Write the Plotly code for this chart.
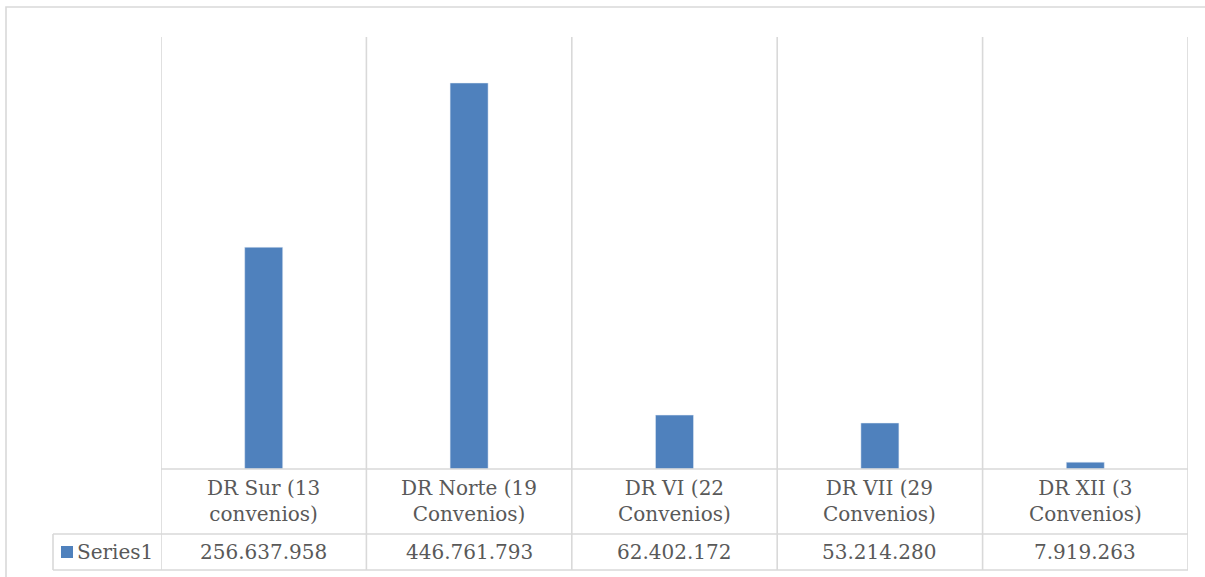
import plotly.graph_objects as go

categories = ["DR Sur (13 convenios)", "DR Norte (19 Convenios)", "DR VI (22 Convenios)",
              "DR VII (29 Convenios)", "DR XII (3 Convenios)"]
values = [256637958, 446761793, 62402172, 53214280, 7919263]
series_name = "Series1"
y_max = 500000000

BAR = "#4f81bd"
GRID = "#d9d9d9"
TXT = "#595959"
FONT = "DejaVu Serif"
FS = 20

W, H = 1205, 577
L, R, T, B = 161, 17, 37, 108
pw, ph = W - L - R, H - T - B

def px_x(px):
    return (px - L) / pw

def px_y(py):
    return (H - B - py) / ph

n = len(categories)
x_idx = list(range(n))

fig = go.Figure(go.Bar(x=x_idx, y=values, marker_color=BAR, width=0.185, name=series_name,
                       showlegend=False))

row1_bot = px_y(534)
row2_bot = px_y(570)
tbl_left = px_x(53)

shapes = []
line = dict(color=GRID, width=1.6)
# vertical category boundaries
for i in range(n + 1):
    shapes.append(dict(type="line", xref="x", yref="paper", x0=i - 0.5, x1=i - 0.5,
                       y0=1, y1=row2_bot, line=line))
# horizontal table lines
shapes.append(dict(type="line", xref="x", yref="paper", x0=-0.5, x1=n - 0.5, y0=0, y1=0, line=line))
for yy in (row1_bot, row2_bot):
    shapes.append(dict(type="line", xref="paper", yref="paper", x0=tbl_left, x1=1, y0=yy, y1=yy, line=line))
shapes.append(dict(type="line", xref="paper", yref="paper", x0=tbl_left, x1=tbl_left,
                   y0=row1_bot, y1=row2_bot, line=line))
# outer chart border
shapes.append(dict(type="rect", xref="paper", yref="paper", x0=px_x(6), x1=px_x(1215),
                   y0=px_y(587), y1=px_y(7), line=dict(color=GRID, width=1.6)))
# legend key
shapes.append(dict(type="rect", xref="paper", yref="paper", x0=px_x(61), x1=px_x(73),
                   y0=px_y(558), y1=px_y(546), fillcolor=BAR, line=dict(width=0)))

annotations = []
r1c = px_y((469 + 534) / 2)
r2c = px_y((534 + 570) / 2)
for i, (c, v) in enumerate(zip(categories, values)):
    a, b = c.rsplit(" ", 1)
    annotations.append(dict(xref="x", yref="paper", x=i, y=r1c, text=a + "<br>" + b,
                            showarrow=False, font=dict(family=FONT, size=FS, color=TXT),
                            xanchor="center", yanchor="middle"))
    annotations.append(dict(xref="x", yref="paper", x=i, y=r2c, text=f"{v:,}".replace(",", "."),
                            showarrow=False, font=dict(family=FONT, size=FS, color=TXT),
                            xanchor="center", yanchor="middle"))
annotations.append(dict(xref="paper", yref="paper", x=px_x(75), y=r2c, text=series_name,
                        showarrow=False, font=dict(family=FONT, size=FS, color=TXT),
                        xanchor="left", yanchor="middle"))

fig.update_layout(
    width=W, height=H,
    margin=dict(l=L, r=R, t=T, b=B),
    paper_bgcolor="white", plot_bgcolor="white",
    xaxis=dict(range=[-0.5, n - 0.5], showticklabels=False, showgrid=False, zeroline=False,
               showline=False, ticks=""),
    yaxis=dict(range=[0, y_max], showticklabels=False, showgrid=False, zeroline=False,
               showline=False, ticks=""),
    shapes=shapes, annotations=annotations,
    showlegend=False,
)

fig.write_html("out.html")
